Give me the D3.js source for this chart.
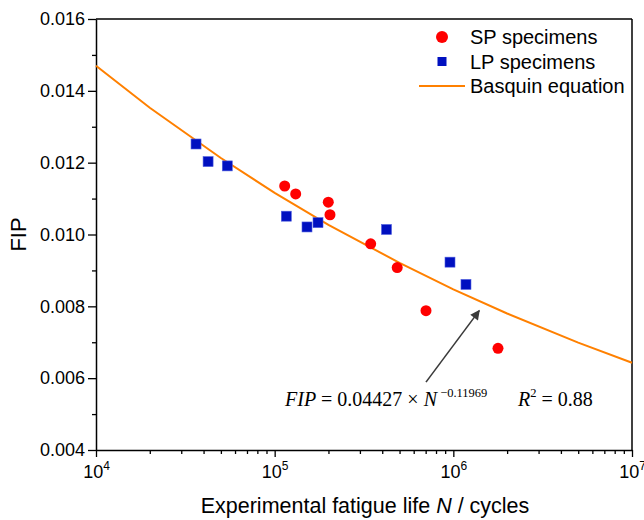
<!DOCTYPE html>
<html>
<head>
<meta charset="utf-8">
<script src="https://cdn.jsdelivr.net/npm/d3@7"></script>
<style>
  body { margin: 0; background: #fff; }
  svg { display: block; font-family: "Liberation Sans", Arial, sans-serif; }
</style>
</head>
<body>
<div id="chart"></div>
<script>
// data
const spLife = [113800, 131100, 199600, 204000, 344700, 485100, 703100, 1778000];
const spFip  = [0.01135, 0.01113, 0.01090, 0.01055, 0.00974, 0.00908, 0.00788, 0.00683];

const lpLife = [36300, 42400, 54300, 116200, 151700, 174800, 422600, 957900, 1177000];
const lpFip  = [0.01252, 0.01203, 0.01191, 0.01051, 0.01021, 0.01033, 0.01014, 0.00923, 0.00861];

// Basquin fit line, as drawn
const fitLife = [1e4, 2e4, 5e4, 1e5, 2e5, 5e5, 1e6, 2e6, 5e6, 1e7];
const fitFip  = [0.01470, 0.01353, 0.01213, 0.01116, 0.01027, 0.00921, 0.00847, 0.00780, 0.00699, 0.00643];

const xTicks = [1e4, 1e5, 1e6, 1e7];
const xTickExp = ["4", "5", "6", "7"];
const yTicks = [0.004, 0.006, 0.008, 0.010, 0.012, 0.014, 0.016];
const yMinor = [0.005, 0.007, 0.009, 0.011, 0.013, 0.015];

const legendLabels = ["SP specimens", "LP specimens", "Basquin equation"];

// arrow annotation: tail -> head (data units)
const arrowFrom = [703000, 0.00589];
const arrowTo = [1397000, 0.00788];

const W = 644, H = 520;
const margin = { top: 19, right: 12, bottom: 70, left: 96 };
const width = W - margin.left - margin.right;
const height = H - margin.top - margin.bottom;

const svg = d3.select("#chart").append("svg")
  .attr("width", W)
  .attr("height", H);

const g = svg.append("g")
  .attr("transform", `translate(${margin.left},${margin.top})`);

const x = d3.scaleLog().domain([1e4, 1e7]).range([0, width]);
const y = d3.scaleLinear().domain([0.004, 0.016]).range([height, 0]);

// minor ticks on x: 2..9 in every decade
const xMinor = [];
[1e4, 1e5, 1e6].forEach(d => { for (let k = 2; k <= 9; k++) xMinor.push(d * k); });

// frame (top + right)
g.append("line").attr("x1", 0).attr("x2", width).attr("y1", 0).attr("y2", 0)
  .attr("stroke", "#000").attr("stroke-width", 1.5);
g.append("line").attr("x1", width).attr("x2", width).attr("y1", 0).attr("y2", height)
  .attr("stroke", "#000").attr("stroke-width", 1.5);

// y axis
const yAxis = g.append("g").attr("class", "y-axis")
  .call(d3.axisLeft(y).tickValues(yTicks).tickFormat(d3.format(".3f")).tickSize(8).tickSizeOuter(0));
g.append("g").attr("class", "y-minor")
  .call(d3.axisLeft(y).tickValues(yMinor).tickFormat("").tickSize(4).tickSizeOuter(0))
  .select(".domain").remove();
yAxis.selectAll("text")
  .attr("font-size", 18)
  .attr("font-family", "Liberation Sans, Arial, sans-serif")
  .attr("fill", "#000")
  .attr("x", -11);

// x axis
const xAxis = g.append("g").attr("class", "x-axis")
  .attr("transform", `translate(0,${height})`)
  .call(d3.axisBottom(x).tickValues(xTicks).tickFormat("").tickSize(7).tickSizeOuter(0));
g.append("g").attr("class", "x-minor")
  .attr("transform", `translate(0,${height})`)
  .call(d3.axisBottom(x).tickValues(xMinor).tickFormat("").tickSize(4).tickSizeOuter(0))
  .select(".domain").remove();

xAxis.selectAll(".tick").each(function(d, i) {
  const t = d3.select(this).append("text")
    .attr("y", 28)
    .attr("fill", "#000")
    .attr("font-size", 18)
    .attr("font-family", "Liberation Sans, Arial, sans-serif")
    .attr("text-anchor", "middle");
  t.append("tspan").text("10");
  t.append("tspan").attr("dy", -8).attr("font-size", 12).text(xTickExp[i]);
});

g.selectAll(".domain").attr("stroke-width", 1.5);
g.selectAll(".tick line").attr("stroke-width", 1.3);

// axis titles
const xTitle = svg.append("text")
  .attr("x", margin.left + width / 2 + 1)
  .attr("y", 513)
  .attr("text-anchor", "middle")
  .attr("font-size", 21.5)
  .attr("fill", "#000");
xTitle.append("tspan").text("Experimental fatigue life ");
xTitle.append("tspan").attr("font-style", "italic").text("N");
xTitle.append("tspan").text(" / cycles");

svg.append("text")
  .attr("transform", `translate(26,${margin.top + height / 2}) rotate(-90)`)
  .attr("text-anchor", "middle")
  .attr("font-size", 22)
  .attr("fill", "#000")
  .text("FIP");

// fitted line
const fitData = fitLife.map((n, i) => ({ n, f: fitFip[i] }));
g.append("path")
  .datum(fitData)
  .attr("fill", "none")
  .attr("stroke", "#ff8000")
  .attr("stroke-width", 2)
  .attr("d", d3.line().x(d => x(d.n)).y(d => y(d.f)));

// points
const lpData = lpLife.map((n, i) => ({ n, f: lpFip[i] }));
const spData = spLife.map((n, i) => ({ n, f: spFip[i] }));
const sq = 10;

g.selectAll(".lp").data(lpData).join("rect")
  .attr("class", "lp")
  .attr("x", d => x(d.n) - sq / 2)
  .attr("y", d => y(d.f) - sq / 2)
  .attr("width", sq)
  .attr("height", sq)
  .attr("fill", "#0010c0")
  .attr("stroke", "#5060e0")
  .attr("stroke-width", 0.6);

g.selectAll(".sp").data(spData).join("circle")
  .attr("class", "sp")
  .attr("cx", d => x(d.n))
  .attr("cy", d => y(d.f))
  .attr("r", 5.5)
  .attr("fill", "#ff0000");

// arrow
svg.append("defs").append("marker")
  .attr("id", "head")
  .attr("viewBox", "0 0 10 10")
  .attr("refX", 9).attr("refY", 5)
  .attr("markerWidth", 7).attr("markerHeight", 6)
  .attr("markerUnits", "strokeWidth")
  .attr("orient", "auto")
  .append("path").attr("d", "M0,0 L10,5 L0,10 Z").attr("fill", "#3a3a3a");

g.append("line")
  .attr("x1", x(arrowFrom[0])).attr("y1", y(arrowFrom[1]))
  .attr("x2", x(arrowTo[0])).attr("y2", y(arrowTo[1]))
  .attr("stroke", "#3a3a3a")
  .attr("stroke-width", 1.6)
  .attr("marker-end", "url(#head)");

// equation text
const eq = svg.append("text")
  .attr("x", 285)
  .attr("y", 406)
  .attr("font-family", "Liberation Serif, Times New Roman, serif")
  .attr("font-size", 20)
  .attr("fill", "#000");
eq.append("tspan").attr("font-style", "italic").text("FIP");
eq.append("tspan").text(" = 0.04427 × ");
eq.append("tspan").attr("font-style", "italic").text("N");
eq.append("tspan").attr("dy", -9).attr("font-size", 12.5).text(" −0.11969");

const r2 = svg.append("text")
  .attr("x", 518)
  .attr("y", 406)
  .attr("font-family", "Liberation Serif, Times New Roman, serif")
  .attr("font-size", 20)
  .attr("fill", "#000");
r2.append("tspan").attr("font-style", "italic").text("R");
r2.append("tspan").attr("dy", -9).attr("font-size", 12.5).text("2");
r2.append("tspan").attr("dy", 9).text(" = 0.88");

// legend
const legend = svg.append("g").attr("transform", "translate(442,37)");
const rowGap = 24.5;
legend.append("circle").attr("cx", 0).attr("cy", 0).attr("r", 6).attr("fill", "#ff0000");
legend.append("rect").attr("x", -4.5).attr("y", rowGap - 4.5).attr("width", 9).attr("height", 9)
  .attr("fill", "#0010c0");
legend.append("line").attr("x1", -23).attr("x2", 23).attr("y1", rowGap * 2).attr("y2", rowGap * 2)
  .attr("stroke", "#ff8000").attr("stroke-width", 2);
legend.selectAll(".lab").data(legendLabels).join("text")
  .attr("class", "lab")
  .attr("x", 28)
  .attr("y", (d, i) => i * rowGap + 7)
  .attr("font-size", 20)
  .attr("fill", "#000")
  .text(d => d);
</script>
</body>
</html>
